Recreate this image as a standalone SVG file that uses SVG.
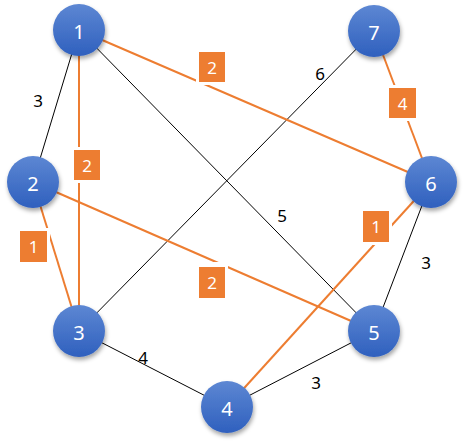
<svg xmlns="http://www.w3.org/2000/svg" width="464" height="445" viewBox="0 0 464 445">
<defs>
<linearGradient id="g" x1="0" y1="0" x2="0" y2="1">
<stop offset="0" stop-color="#5D87D3"/>
<stop offset="1" stop-color="#2F60BE"/>
</linearGradient>
<filter id="sh" x="-30%" y="-30%" width="160%" height="160%">
<feDropShadow dx="1" dy="3" stdDeviation="2" flood-color="#000" flood-opacity="0.35"/>
</filter>
</defs>
<style>
.b{stroke:#000;stroke-width:1;fill:none}
.o{stroke:#ED7D31;stroke-width:2;fill:none}
.n circle{fill:url(#g);filter:url(#sh)}
.n text{fill:#fff;font-family:"Noto Sans","Open Sans",sans-serif;font-size:20px;text-anchor:middle;dominant-baseline:central}
.wb{fill:#fff}
.bx{fill:#ED7D31}
.bt{fill:#fff;font-family:"Noto Sans","Open Sans",sans-serif;font-size:17px;text-anchor:middle;dominant-baseline:central}
.lt{fill:#000;font-family:"Noto Sans","Open Sans",sans-serif;font-size:17px;text-anchor:middle;dominant-baseline:central}
</style>
<g id="edges">
<line class="b" x1="79" y1="30" x2="33" y2="182"/>
<line class="b" x1="79" y1="30" x2="374" y2="331"/>
<line class="b" x1="374" y1="31" x2="79" y2="331"/>
<line class="b" x1="431" y1="182" x2="374" y2="331"/>
<line class="b" x1="79" y1="331" x2="227" y2="407"/>
<line class="b" x1="227" y1="407" x2="374" y2="331"/>
<line class="o" x1="79" y1="30" x2="79" y2="331"/>
<line class="o" x1="79" y1="30" x2="431" y2="182"/>
<line class="o" x1="374" y1="31" x2="431" y2="182"/>
<line class="o" x1="33" y1="182" x2="79" y2="331"/>
<line class="o" x1="33" y1="182" x2="374" y2="331"/>
<line class="o" x1="431" y1="182" x2="227" y2="407"/>
<rect class="wb" x="71" y="147" width="32" height="36"/>
<rect class="wb" x="196" y="49" width="32" height="36"/>
<rect class="wb" x="386" y="85" width="33" height="36"/>
<rect class="wb" x="17" y="228" width="33" height="37"/>
<rect class="wb" x="196" y="262" width="32" height="38"/>
<rect class="wb" x="360" y="208" width="32" height="37"/>
<rect class="bx" x="74" y="150" width="26" height="30"/><text class="bt" x="87" y="165">2</text>
<rect class="bx" x="199" y="52" width="26" height="30"/><text class="bt" x="212" y="67">2</text>
<rect class="bx" x="389" y="88" width="27" height="30"/><text class="bt" x="402.5" y="103">4</text>
<rect class="bx" x="20" y="231" width="27" height="31"/><text class="bt" x="33.5" y="246.5">1</text>
<rect class="bx" x="199" y="267" width="26" height="31"/><text class="bt" x="212" y="282.5">2</text>
<rect class="bx" x="363" y="211" width="26" height="31"/><text class="bt" x="376" y="226.5">1</text>
<text class="lt" x="38" y="100">3</text>
<text class="lt" x="282" y="215">5</text>
<text class="lt" x="320" y="73">6</text>
<text class="lt" x="426" y="262">3</text>
<text class="lt" x="143" y="357">4</text>
<text class="lt" x="316" y="382">3</text>
</g>
<g id="node1" class="n"><circle cx="79" cy="30" r="26"/><text x="79" y="31">1</text></g>
<g id="node2" class="n"><circle cx="33" cy="182" r="26"/><text x="33" y="183">2</text></g>
<g id="node3" class="n"><circle cx="79" cy="331" r="26"/><text x="79" y="332">3</text></g>
<g id="node4" class="n"><circle cx="227" cy="407" r="26"/><text x="227" y="408">4</text></g>
<g id="node5" class="n"><circle cx="374" cy="331" r="26"/><text x="374" y="332">5</text></g>
<g id="node6" class="n"><circle cx="431" cy="182" r="26"/><text x="431" y="183">6</text></g>
<g id="node7" class="n"><circle cx="374" cy="31" r="26"/><text x="374" y="32">7</text></g>
</svg>
